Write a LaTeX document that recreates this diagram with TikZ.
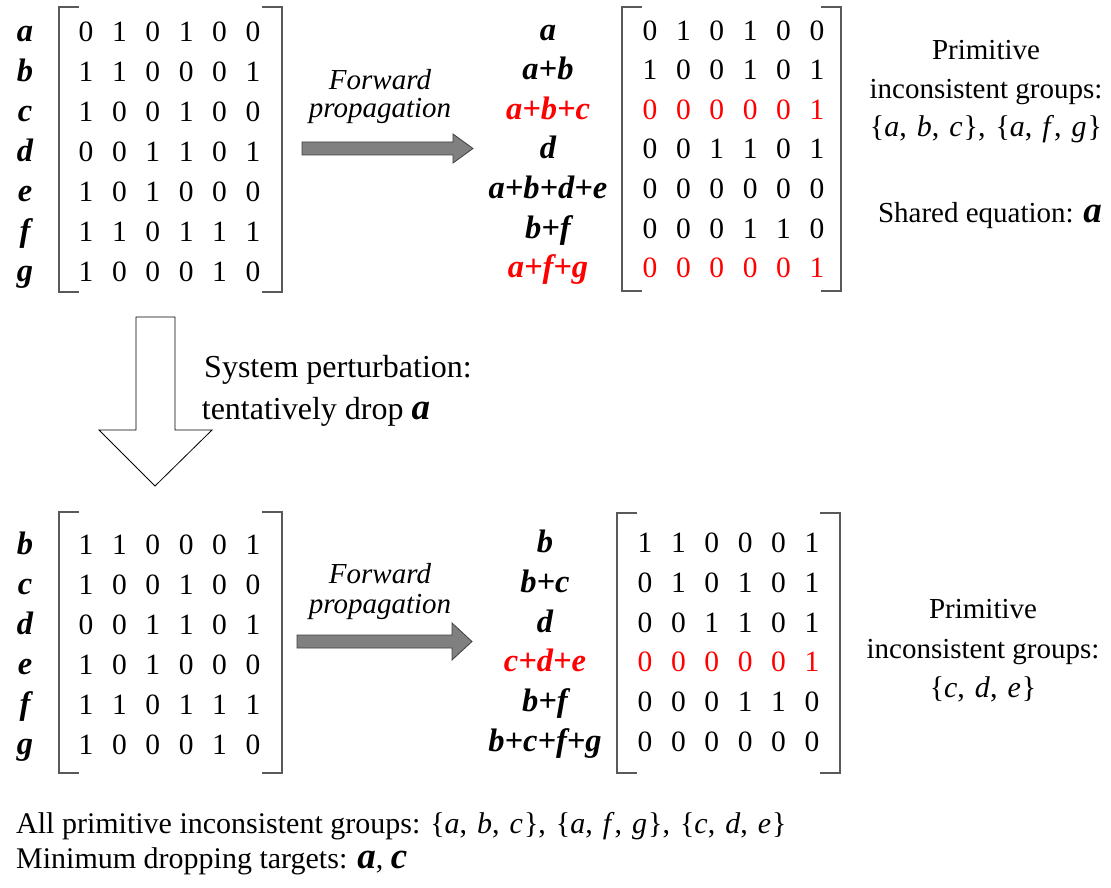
\documentclass[tikz,border=0pt]{standalone}
\usepackage{fontspec}
\setmainfont{Liberation Serif}
\newcommand\xz{86}
\newcommand\mrow[9]{%
  \node[dig,text=#3] (#1-1) at (\xz,#2) {#4};
  \node[dig,text=#3] (#1-2) at (\xz+33.4,#2) {#5};
  \node[dig,text=#3] (#1-3) at (\xz+66.8,#2) {#6};
  \node[dig,text=#3] (#1-4) at (\xz+100.2,#2) {#7};
  \node[dig,text=#3] (#1-5) at (\xz+133.6,#2) {#8};
  \node[dig,text=#3] (#1-6) at (\xz+167,#2) {#9};}
\newcommand\bigbi[1]{{\fontsize{37}{40}\selectfont\bfseries\itshape #1}}
\newcommand\sep{,\hspace{10pt}}
\newcommand\grp[3]{\{\textit{#1}\sep\textit{#2}\sep\textit{#3}\hspace{1pt}\}}
\begin{document}
\begin{tikzpicture}[x=1pt,y=-1pt,
  dig/.style={anchor=base,inner sep=0pt,font=\fontsize{29.5}{34}\selectfont},
  lab/.style={anchor=base,inner sep=0pt,font=\fontsize{32.5}{36}\selectfont\bfseries\itshape},
  txt/.style={anchor=base,inner sep=0pt,font=\fontsize{29}{32}\selectfont},
  settxt/.style={anchor=base,inner sep=0pt,font=\fontsize{30}{32}\selectfont},
  bigtxt/.style={anchor=base,inner sep=0pt,font=\fontsize{32}{36}\selectfont},
  sumtxt/.style={anchor=base west,inner sep=0pt,font=\fontsize{30}{34}\selectfont},
  itx/.style={anchor=base,inner sep=0pt,font=\fontsize{29}{32}\selectfont\itshape},
  brk/.style={draw=black!65,line width=1.3pt},
  fwd/.style={draw=black!75,fill=black!50,line width=0.8pt},
  down/.style={draw=black,fill=white,line width=0.8pt}]
\useasboundingbox (0,0) rectangle (1111,888);
% ---------- top-left matrix ----------
\draw[brk] (79,7) -- (59,7) -- (59,292) -- (79,292);
\draw[brk] (262,7) -- (282,7) -- (282,292) -- (262,292);
\renewcommand\xz{86}
\node[lab] (tl-la) at (25,41.5) {a};
\node[lab] (tl-lb) at (25,81.5) {b};
\node[lab] (tl-lc) at (25,121.5) {c};
\node[lab] (tl-ld) at (25,161.5) {d};
\node[lab] (tl-le) at (25,201.5) {e};
\node[lab] (tl-lf) at (25,241.5) {f};
\node[lab] (tl-lg) at (25,281.5) {g};
\mrow{tl1}{41.5}{black}{0}{1}{0}{1}{0}{0}
\mrow{tl2}{81.5}{black}{1}{1}{0}{0}{0}{1}
\mrow{tl3}{121.5}{black}{1}{0}{0}{1}{0}{0}
\mrow{tl4}{161.5}{black}{0}{0}{1}{1}{0}{1}
\mrow{tl5}{201.5}{black}{1}{0}{1}{0}{0}{0}
\mrow{tl6}{241.5}{black}{1}{1}{0}{1}{1}{1}
\mrow{tl7}{281.5}{black}{1}{0}{0}{0}{1}{0}
% ---------- top arrow ----------
\node[itx] (tfw) at (380,90) {Forward};
\node[itx] (tpr) at (380,118) {propagation};
\draw[fwd] (302,142) -- (453,142) -- (453,134) -- (473,148.5) -- (453,163) -- (453,155) -- (302,155) -- cycle;
% ---------- top-right matrix ----------
\draw[brk] (642,7) -- (622,7) -- (622,291) -- (642,291);
\draw[brk] (821,7) -- (841,7) -- (841,291) -- (821,291);
\renewcommand\xz{650}
\node[lab] (tr-l1) at (548,40.5) {a};
\node[lab] (tr-l2) at (548,80) {a+b};
\node[lab,text=red] (tr-l3) at (548,119.5) {a+b+c};
\node[lab] (tr-l4) at (548,159) {d};
\node[lab] (tr-l5) at (548,198.5) {a+b+d+e};
\node[lab] (tr-l6) at (548,238) {b+f};
\node[lab,text=red] (tr-l7) at (548,277.5) {a+f+g};
\mrow{tr1}{40.5}{black}{0}{1}{0}{1}{0}{0}
\mrow{tr2}{80}{black}{1}{0}{0}{1}{0}{1}
\mrow{tr3}{119.5}{red}{0}{0}{0}{0}{0}{1}
\mrow{tr4}{159}{black}{0}{0}{1}{1}{0}{1}
\mrow{tr5}{198.5}{black}{0}{0}{0}{0}{0}{0}
\mrow{tr6}{238}{black}{0}{0}{0}{1}{1}{0}
\mrow{tr7}{277.5}{red}{0}{0}{0}{0}{0}{1}
% ---------- top-right notes ----------
\node[txt] (n1a) at (986,60) {Primitive};
\node[txt] (n1b) at (986,99) {inconsistent groups:};
\node[settxt] (n1c) at (986,137) {\grp{a}{b}{c}\sep\grp{a}{f}{g}};
\node[txt] (n1d) at (990,222) {Shared equation: \bigbi{a}};
% ---------- down arrow ----------
\draw[down] (136,317) -- (175,317) -- (175,430) -- (212,430) -- (155,486) -- (99,430) -- (136,430) -- cycle;
\node[bigtxt] (sp1) at (338,377) {System perturbation:};
\node[bigtxt] (sp2) at (316,419) {tentatively drop \bigbi{a}};
% ---------- bottom-left matrix ----------
\draw[brk] (79,512) -- (59,512) -- (59,773) -- (79,773);
\draw[brk] (262,512) -- (282,512) -- (282,773) -- (262,773);
\renewcommand\xz{86}
\node[lab] (bl-lb) at (25,554.5) {b};
\node[lab] (bl-lc) at (25,594.5) {c};
\node[lab] (bl-ld) at (25,634.5) {d};
\node[lab] (bl-le) at (25,674.5) {e};
\node[lab] (bl-lf) at (25,714.5) {f};
\node[lab] (bl-lg) at (25,754.5) {g};
\mrow{bl1}{554.5}{black}{1}{1}{0}{0}{0}{1}
\mrow{bl2}{594.5}{black}{1}{0}{0}{1}{0}{0}
\mrow{bl3}{634.5}{black}{0}{0}{1}{1}{0}{1}
\mrow{bl4}{674.5}{black}{1}{0}{1}{0}{0}{0}
\mrow{bl5}{714.5}{black}{1}{1}{0}{1}{1}{1}
\mrow{bl6}{754.5}{black}{1}{0}{0}{0}{1}{0}
% ---------- bottom arrow ----------
\node[itx] (bfw) at (380,583) {Forward};
\node[itx] (bpr) at (380,613) {propagation};
\draw[fwd] (297,635) -- (452,635) -- (452,623) -- (472,641.5) -- (452,660) -- (452,648) -- (297,648) -- cycle;
% ---------- bottom-right matrix ----------
\draw[brk] (637,513) -- (617,513) -- (617,773) -- (637,773);
\draw[brk] (820,513) -- (840,513) -- (840,773) -- (820,773);
\renewcommand\xz{645}
\node[lab] (br-l1) at (545,552.5) {b};
\node[lab] (br-l2) at (545,592.3) {b+c};
\node[lab] (br-l3) at (545,632.1) {d};
\node[lab,text=red] (br-l4) at (545,671.9) {c+d+e};
\node[lab] (br-l5) at (545,711.7) {b+f};
\node[lab] (br-l6) at (545,751.5) {b+c+f+g};
\mrow{br1}{552.5}{black}{1}{1}{0}{0}{0}{1}
\mrow{br2}{592.3}{black}{0}{1}{0}{1}{0}{1}
\mrow{br3}{632.1}{black}{0}{0}{1}{1}{0}{1}
\mrow{br4}{671.9}{red}{0}{0}{0}{0}{0}{1}
\mrow{br5}{711.7}{black}{0}{0}{0}{1}{1}{0}
\mrow{br6}{751.5}{black}{0}{0}{0}{0}{0}{0}
% ---------- bottom-right notes ----------
\node[txt] (n2a) at (983,618) {Primitive};
\node[txt] (n2b) at (983,658) {inconsistent groups:};
\node[settxt] (n2c) at (983,697) {\grp{c}{d}{e}};
% ---------- summary ----------
\node[sumtxt] (s1) at (16,833) {All primitive inconsistent groups: \grp{a}{b}{c}\sep\grp{a}{f}{g}\sep\grp{c}{d}{e}};
\node[sumtxt] (s2) at (16,868) {Minimum dropping targets: \bigbi{a}, \bigbi{c}};
\end{tikzpicture}
\end{document}
